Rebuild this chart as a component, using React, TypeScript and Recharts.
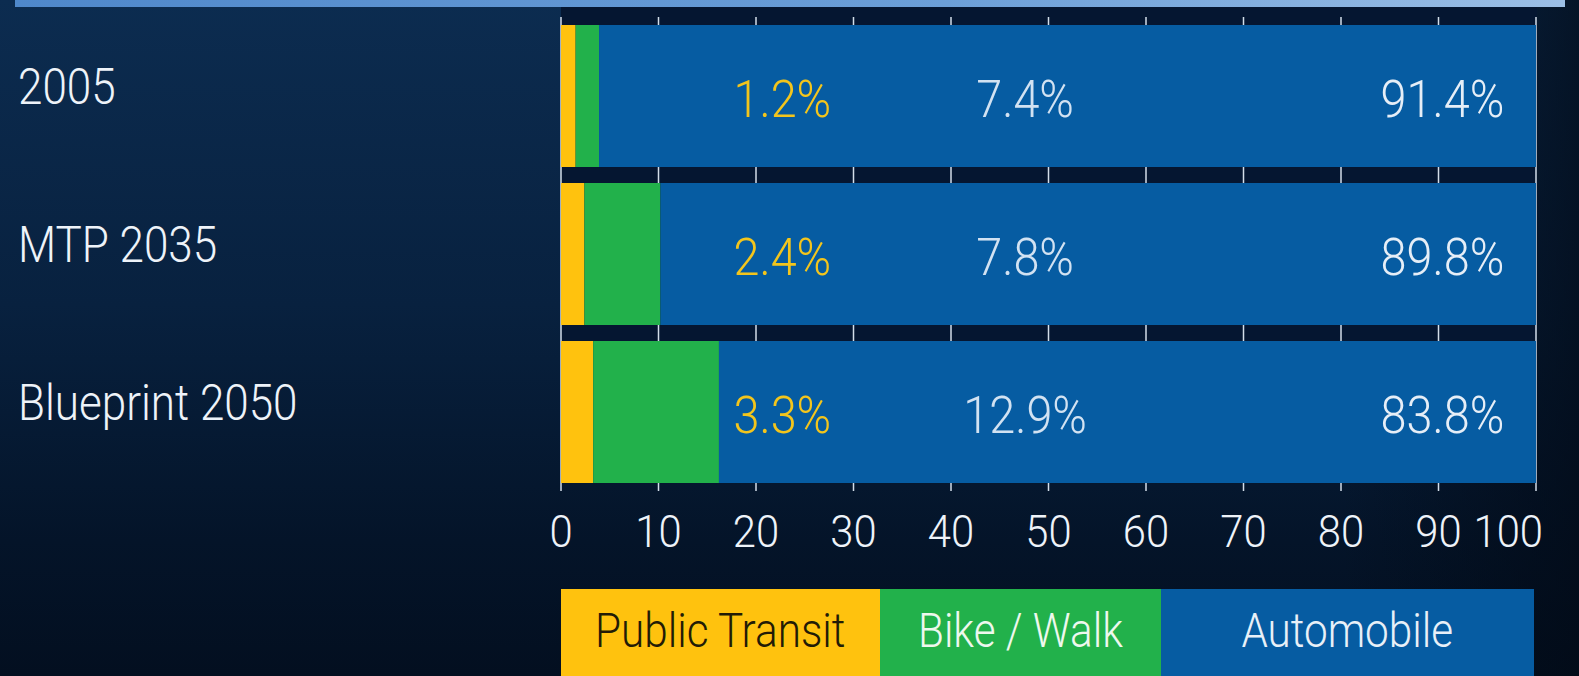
import { BarChart, Bar, XAxis, YAxis, CartesianGrid, LabelList, Legend } from 'recharts';

const scenarios = ['2005', 'MTP 2035', 'Blueprint 2050'];
// bar lengths as drawn in the picture
const transitShare = [1.5, 2.4, 3.3];
const bikeWalkShare = [2.4, 7.8, 12.9];
const autoShare = [96.1, 89.8, 83.8];
// printed labels
const transitLabels = ['1.2%', '2.4%', '3.3%'];
const bikeWalkLabels = ['7.4%', '7.8%', '12.9%'];
const autoLabels = ['91.4%', '89.8%', '83.8%'];
const xTicks = [0, 10, 20, 30, 40, 50, 60, 70, 80, 90, 100];

const W = 1579;
const H = 676;
const PLOT_LEFT = 561;
const PLOT_RIGHT = 1536;
const PLOT_W = PLOT_RIGHT - PLOT_LEFT;
const FONT = 'Roboto, "Liberation Sans", sans-serif';
const SQUEEZE = 0.88;

const SERIES = [
  { key: 'transit', label: 'transitLabel', name: 'Public Transit', color: '#ffc20e', labelColor: '#f3c51c', legendText: '#221b06', legendW: 319, labelAt: 22.7 },
  { key: 'bikeWalk', label: 'bikeWalkLabel', name: 'Bike / Walk', color: '#22b14b', labelColor: '#d2e2f2', legendText: '#eef8ee', legendW: 281, labelAt: 47.6 },
  { key: 'auto', label: 'autoLabel', name: 'Automobile', color: '#065ca2', labelColor: '#e6eef7', legendText: '#e8f0f8', legendW: 373, labelAt: 90.4 },
];

const data = scenarios.map((scenario, i) => ({
  scenario,
  transit: transitShare[i],
  bikeWalk: bikeWalkShare[i],
  auto: autoShare[i],
  transitLabel: transitLabels[i],
  bikeWalkLabel: bikeWalkLabels[i],
  autoLabel: autoLabels[i],
}));

function CategoryTick({ y, payload }: any) {
  return (
    <g transform={`translate(18, ${Number(y) + 8}) scale(${SQUEEZE}, 1)`}>
      <text x={0} y={0} fill="#eef3f9" fontSize={50} fontWeight={300} fontFamily={FONT}>
        {payload.value}
      </text>
    </g>
  );
}

function ValueTick({ x, y, payload }: any) {
  // the last label sits inside the plot edge
  const last = payload.value === xTicks[xTicks.length - 1];
  return (
    <g transform={`translate(${last ? Number(x) + 7 : x}, ${Number(y) + 56}) scale(0.95, 1)`}>
      <text x={0} y={0} textAnchor={last ? 'end' : 'middle'} fill="#eef3f9" fontSize={44} fontWeight={300} fontFamily={FONT}>
        {payload.value}
      </text>
    </g>
  );
}

const makeLabel = (at: number, color: string) => (props: any) => {
  const { y, height, value } = props;
  const cx = PLOT_LEFT + (at / 100) * PLOT_W;
  return (
    <g transform={`translate(${cx}, ${Number(y) + Number(height) / 2 + 21}) scale(0.9, 1)`}>
      <text x={0} y={0} textAnchor="middle" fill={color} fontSize={52} fontWeight={300} fontFamily={FONT}>
        {value}
      </text>
    </g>
  );
};

function ModeLegend() {
  return (
    <div style={{ display: 'flex', height: 87, paddingLeft: PLOT_LEFT, boxSizing: 'border-box' }}>
      {SERIES.map((s) => (
        <div
          key={s.key}
          style={{
            width: s.legendW,
            height: 87,
            background: s.color,
            display: 'flex',
            alignItems: 'center',
            justifyContent: 'center',
            paddingBottom: 4,
            boxSizing: 'border-box',
          }}
        >
          <span
            style={{
              display: 'inline-block',
              transform: `scaleX(${SQUEEZE})`,
              color: s.legendText,
              fontFamily: FONT,
              fontWeight: 300,
              fontSize: 48,
              whiteSpace: 'nowrap',
            }}
          >
            {s.name}
          </span>
        </div>
      ))}
    </div>
  );
}

export default function App() {
  return (
    <div
      style={{
        position: 'absolute',
        left: 0,
        top: 0,
        width: W,
        height: H,
        overflow: 'hidden',
        background:
          'linear-gradient(90deg, rgba(2,10,22,0) 0%, rgba(2,10,22,0) 85%, rgba(2,10,22,0.7) 100%), linear-gradient(180deg, #0c2c50 0%, #08213f 45%, #041429 80%, #030f20 100%)',
      }}
    >
      <div
        style={{
          position: 'absolute',
          left: 15,
          top: 0,
          width: 1550,
          height: 7,
          background: 'linear-gradient(90deg, #4f88cb 0%, #6c9fd8 60%, #9cbfe6 100%)',
        }}
      />
      <div
        style={{
          position: 'absolute',
          left: PLOT_LEFT,
          top: 7,
          width: PLOT_W + 1,
          height: 476,
          background: '#051631',
        }}
      />
      <div style={{ position: 'absolute', left: 0, top: 0 }}>
        <BarChart
          width={W}
          height={H}
          data={data}
          layout="vertical"
          margin={{ top: 17, right: W - PLOT_RIGHT, bottom: 0, left: 0 }}
          barSize={142}
        >
          <CartesianGrid horizontal={false} stroke="#d3deea" strokeWidth={1.5} />
          <XAxis
            type="number"
            domain={[0, 100]}
            ticks={xTicks}
            interval={0}
            height={98}
            axisLine={false}
            tickLine={false}
            tickSize={0}
            tickMargin={0}
            tick={<ValueTick />}
          />
          <YAxis
            type="category"
            dataKey="scenario"
            width={PLOT_LEFT}
            axisLine={false}
            tickLine={false}
            tick={<CategoryTick />}
          />
          <Legend
            verticalAlign="bottom"
            align="left"
            wrapperStyle={{ left: 0, width: W, bottom: 0 }}
            content={() => <ModeLegend />}
          />
          {SERIES.map((s) => (
            <Bar key={s.key} dataKey={s.key} name={s.name} stackId="mode" fill={s.color} isAnimationActive={false}>
              <LabelList dataKey={s.label} content={makeLabel(s.labelAt, s.labelColor)} />
            </Bar>
          ))}
        </BarChart>
      </div>
    </div>
  );
}
